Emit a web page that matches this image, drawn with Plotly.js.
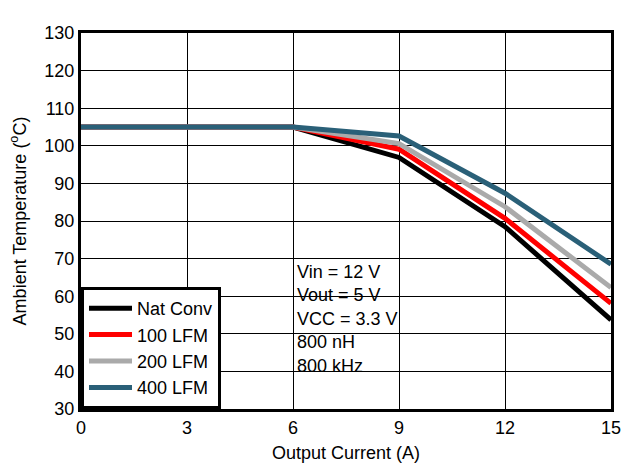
<!DOCTYPE html>
<html>
<head>
<meta charset="utf-8">
<script src="https://cdn.plot.ly/plotly-3.0.1.min.js"></script>
<style>html,body{margin:0;padding:0;background:#fff;}#chart{width:641px;height:475px;}</style>
</head>
<body>
<div id="chart"></div>
<script>
const current = [0, 3, 6, 9, 12, 15];
const natConv = [105, 105, 105, 96.9, 78.5, 53.7];
const lfm100 = [105, 105, 105, 99.1, 80.7, 58.1];
const lfm200 = [105, 105, 105, 100.6, 83.8, 62.3];
const lfm400 = [105, 105, 105, 102.6, 87.4, 68.5];
const seriesNames = ['Nat Conv', '100 LFM', '200 LFM', '400 LFM'];
const seriesColors = ['#000000', '#ff0000', '#aaaaaa', '#2a6078'];
const seriesData = [natConv, lfm100, lfm200, lfm400];
const xTicks = [0, 3, 6, 9, 12, 15];
const yTicks = [30, 40, 50, 60, 70, 80, 90, 100, 110, 120, 130];

const font = {family: 'Liberation Sans, Arial, sans-serif', size: 18, color: '#000'};
const traces = seriesData.map((d, i) => ({
  x: current, y: d, type: 'scatter', mode: 'lines', name: seriesNames[i],
  line: {color: seriesColors[i], width: 5}
}));
const layout = {
  width: 641, height: 475,
  margin: {l: 81, r: 30, t: 33, b: 66},
  paper_bgcolor: '#fff', plot_bgcolor: '#fff',
  font: font,
  showlegend: true,
  legend: {x: 0, y: 0, xanchor: 'left', yanchor: 'bottom', bgcolor: '#fff',
    bordercolor: '#000', borderwidth: 3, font: font, tracegroupgap: 0,
    itemwidth: 43},
  xaxis: {range: [0, 15], tickvals: xTicks, showgrid: true, gridcolor: '#000', gridwidth: 1,
    showline: true, mirror: true, linecolor: '#000', linewidth: 3, zeroline: false,
    ticks: '', tickfont: font,
    title: {text: 'Output Current (A)', font: font, standoff: 10}},
  yaxis: {range: [30, 130], tickvals: yTicks, showgrid: true, gridcolor: '#000', gridwidth: 1,
    showline: true, mirror: true, linecolor: '#000', linewidth: 3, zeroline: false,
    ticks: '', tickfont: font,
    title: {text: 'Ambient Temperature (<sup>o</sup>C)', font: font, standoff: 14}},
  annotations: [{
    x: 6.05, y: 54, xref: 'x', yref: 'y', xanchor: 'left', yanchor: 'middle', align: 'left',
    showarrow: false, font: font,
    text: 'Vin = 12 V<br>Vout = 5 V<br>VCC = 3.3 V<br>800 nH<br>800 kHz'
  }]
};
Plotly.newPlot('chart', traces, layout, {displayModeBar: false, staticPlot: true});
</script>
</body>
</html>
